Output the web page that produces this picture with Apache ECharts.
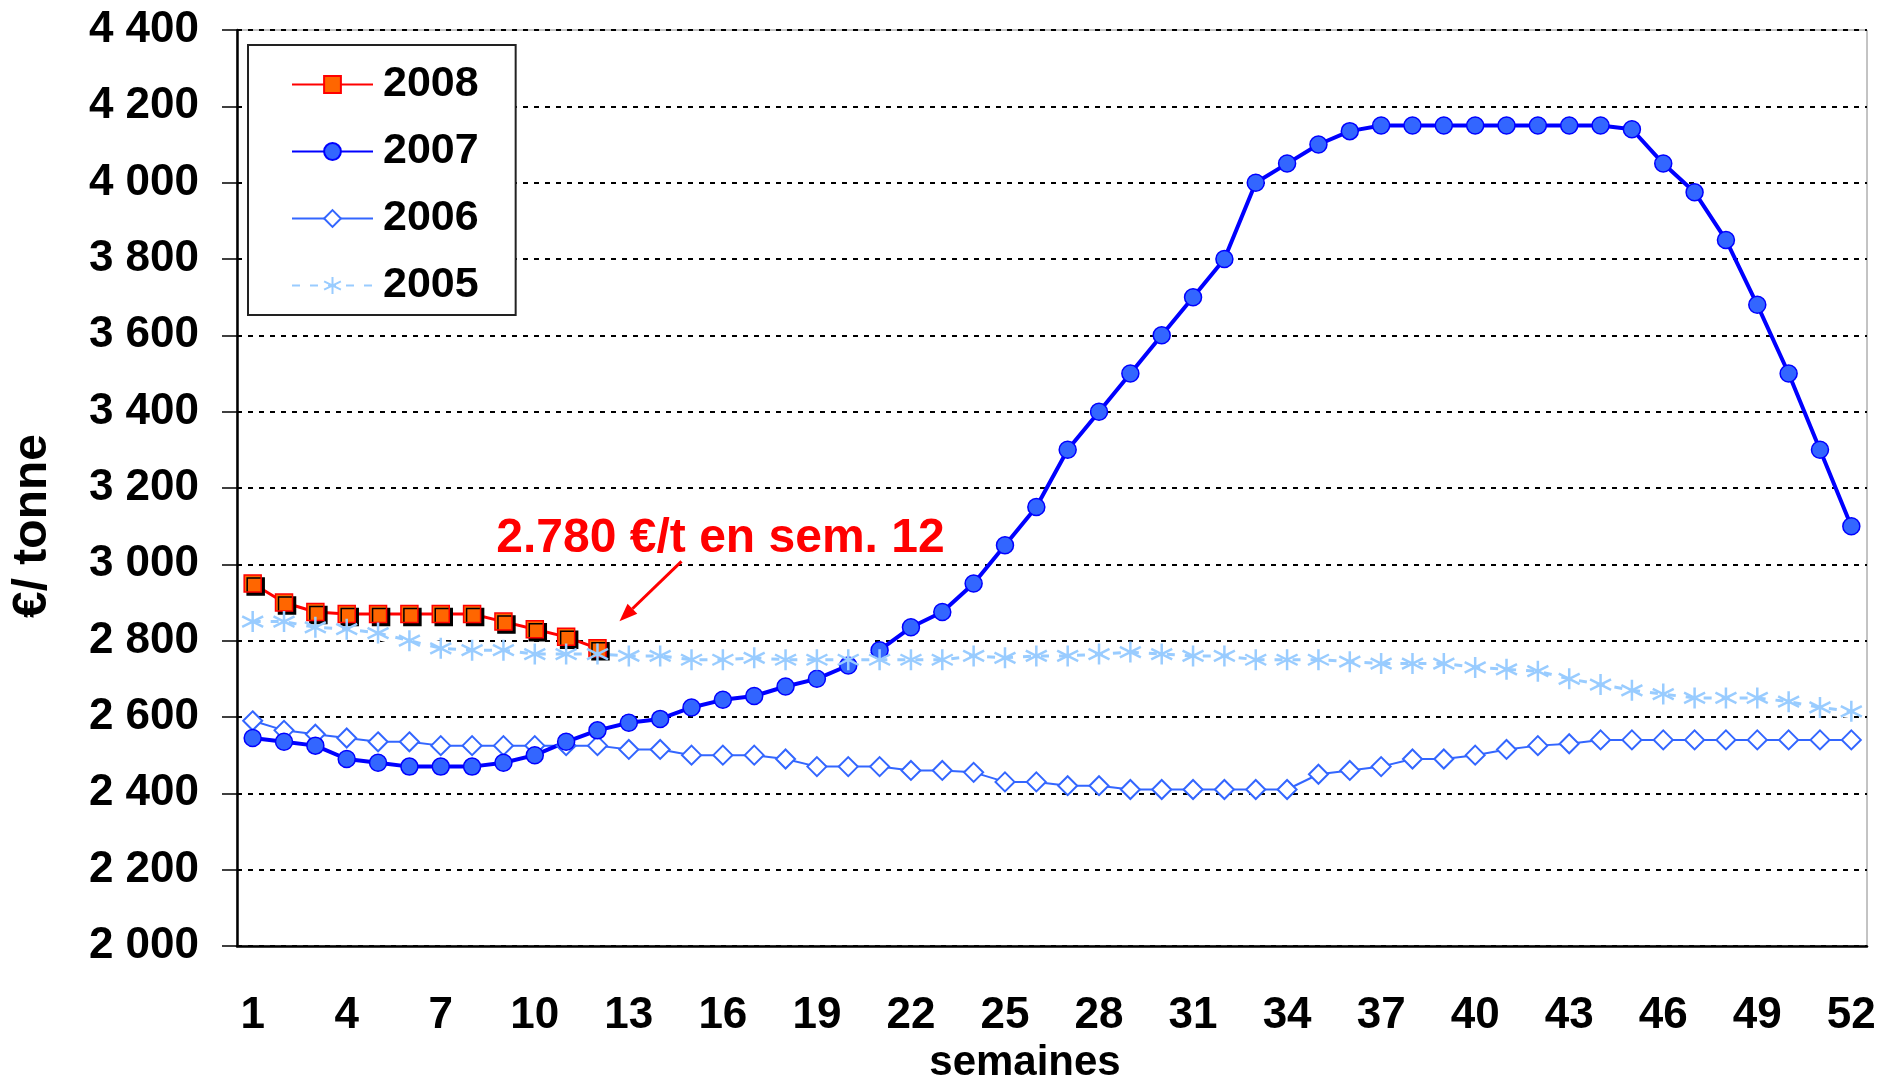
<!DOCTYPE html>
<html>
<head>
<meta charset="utf-8">
<script src="https://cdn.jsdelivr.net/npm/echarts@6/dist/echarts.min.js"></script>
<style>
  html, body { margin: 0; padding: 0; background: #fff; }
  #chart { width: 1880px; height: 1080px; }
</style>
</head>
<body>
<div id="chart"></div>
<script>
// semaines 1..52
const weeks = ['1','2','3','4','5','6','7','8','9','10','11','12','13','14','15','16','17','18','19','20',
  '21','22','23','24','25','26','27','28','29','30','31','32','33','34','35','36','37','38','39','40',
  '41','42','43','44','45','46','47','48','49','50','51','52']

// prix €/tonne par semaine
const price2008 = [2950, 2900, 2875, 2870, 2870, 2870, 2870, 2870, 2850, 2830, 2810, 2780]
const price2007 = [2545, 2535, 2525, 2490, 2480, 2470, 2470, 2470, 2480, 2500,
  2535, 2565, 2585, 2595, 2625, 2645, 2655, 2680, 2700, 2735,
  2775, 2835, 2875, 2950, 3050, 3150, 3300, 3400, 3500, 3600,
  3700, 3800, 4000, 4050, 4100, 4135, 4150, 4150, 4150, 4150,
  4150, 4150, 4150, 4150, 4140, 4050, 3975, 3850, 3680, 3500,
  3300, 3100]
const price2006 = [2590, 2565, 2555, 2545, 2535, 2535, 2525, 2525, 2525, 2525,
  2525, 2525, 2515, 2515, 2500, 2500, 2500, 2490, 2470, 2470,
  2470, 2460, 2460, 2455, 2430, 2430, 2420, 2420, 2410, 2410,
  2410, 2410, 2410, 2410, 2450, 2460, 2470, 2490, 2490, 2500,
  2515, 2525, 2530, 2540, 2540, 2540, 2540, 2540, 2540, 2540,
  2540, 2540]
const price2005 = [2850, 2850, 2835, 2830, 2820, 2800, 2780, 2775, 2775, 2765,
  2765, 2765, 2760, 2760, 2750, 2750, 2755, 2750, 2750, 2750,
  2750, 2750, 2750, 2760, 2755, 2760, 2760, 2765, 2770, 2765,
  2760, 2760, 2750, 2750, 2750, 2745, 2740, 2740, 2740, 2730,
  2725, 2720, 2700, 2685, 2670, 2660, 2650, 2650, 2650, 2640,
  2625, 2615]

const yMin = 2000, yMax = 4400, yStep = 200
const noteText = '2.780 €/t en sem. 12'
const noteWeek = '12', noteValue = 2780

const FONT = "'Liberation Sans', Arial, sans-serif"
const ASTERISK = 'path://M10,0L10,20M1,5L19,15M1,15L19,5'

// 12 345 -> "12 345"
function thousands(v) {
  return String(v).replace(/\B(?=(\d{3})+(?!\d))/g, ' ')
}

const chart = echarts.init(document.getElementById('chart'))

chart.setOption({
  animation: false,
  backgroundColor: '#fff',
  textStyle: { fontFamily: FONT },
  grid: {
    left: 237, right: 13, top: 30, bottom: 134,
    show: true, borderColor: '#888', borderWidth: 1,
    outerBoundsMode: 'none',
  },
  legend: {
    data: ['2008', '2007', '2006', '2005'],
    orient: 'vertical',
    left: 248, top: 45,
    padding: [18, 37, 8, 43],
    itemWidth: 81, itemHeight: 21, itemGap: 24,
    borderColor: '#222', borderWidth: 2,
    backgroundColor: '#fff',
    textStyle: { fontFamily: FONT, fontSize: 43, fontWeight: 'bold', color: '#000', padding: [0, 0, 0, 5] },
  },
  xAxis: {
    type: 'category',
    data: weeks,
    boundaryGap: true,
    name: 'semaines',
    nameLocation: 'middle',
    nameGap: 93,
    nameTextStyle: { fontFamily: FONT, fontSize: 42, fontWeight: 'bold', color: '#000', padding: [0, 54, 0, 0] },
    axisLine: { lineStyle: { color: '#000', width: 2.5 } },
    axisTick: { inside: true, length: 15, interval: 0, lineStyle: { color: '#000', width: 1.5 } },
    axisLabel: { interval: 2, margin: 48, fontFamily: FONT, fontSize: 44, fontWeight: 'bold', color: '#000' },
    splitLine: { show: false },
  },
  yAxis: {
    type: 'value',
    min: yMin, max: yMax, interval: yStep,
    name: '€/ tonne',
    nameLocation: 'middle',
    nameGap: 180,
    nameTextStyle: { fontFamily: FONT, fontSize: 48, fontWeight: 'bold', color: '#000', padding: [0, 76, 0, 0] },
    axisLine: { show: true, lineStyle: { color: '#000', width: 2.5 } },
    axisTick: { show: true, length: 15, lineStyle: { color: '#000', width: 1.5 } },
    axisLabel: { margin: 38, fontFamily: FONT, fontSize: 44, fontWeight: 'bold', color: '#000', formatter: thousands },
    splitLine: { lineStyle: { color: '#000', width: 2, type: [5, 6] } },
  },
  series: [
    {
      name: '2006', type: 'line', data: price2006,
      symbol: 'diamond', symbolSize: 19, showAllSymbol: true,
      lineStyle: { color: '#3366ff', width: 2 },
      itemStyle: { color: '#fff', borderColor: '#3366ff', borderWidth: 2 },
    },
    {
      name: '2007', type: 'line', data: price2007,
      symbol: 'circle', symbolSize: 17, showAllSymbol: true,
      lineStyle: { color: '#0000ff', width: 4 },
      itemStyle: { color: '#3366ff', borderColor: '#0000ff', borderWidth: 1.5 },
    },
    {
      name: '2008', type: 'line', data: price2008,
      symbol: 'rect', symbolSize: 17, showAllSymbol: true,
      lineStyle: { color: '#ff0000', width: 3 },
      itemStyle: {
        color: '#ff6600', borderColor: '#ff0000', borderWidth: 1.5,
        shadowColor: '#000', shadowOffsetX: 3, shadowOffsetY: 3, shadowBlur: 0,
      },
    },
    // bande blanche sous la courbe 2005 (comme dans l'original)
    {
      name: '', type: 'line', data: price2005,
      symbol: 'none', silent: true,
      lineStyle: { color: '#fff', width: 14 },
    },
    {
      name: '2005', type: 'line', data: price2005,
      symbol: ASTERISK, symbolSize: 21, showAllSymbol: true,
      lineStyle: { color: '#99ccff', width: 3, type: [8, 10] },
      itemStyle: { color: '#99ccff', borderColor: '#99ccff', borderWidth: 2.5 },
    },
  ],
})

// annotation : texte + flèche ancrés sur le point sem. 12
const p = chart.convertToPixel({ gridIndex: 0 }, [noteWeek, noteValue])
const start = [p[0] + 84, p[1] - 87]
const tip = [p[0] + 22, p[1] - 27]
const dx = tip[0] - start[0], dy = tip[1] - start[1]
const len = Math.sqrt(dx * dx + dy * dy)
const ux = dx / len, uy = dy / len
const headL = 18, headW = 7
const base = [tip[0] - ux * headL, tip[1] - uy * headL]

chart.setOption({
  graphic: [
    {
      type: 'line', silent: true,
      shape: { x1: start[0], y1: start[1], x2: base[0], y2: base[1] },
      style: { stroke: '#ff0000', lineWidth: 3 },
    },
    {
      type: 'polygon', silent: true,
      shape: { points: [tip, [base[0] - uy * headW, base[1] + ux * headW], [base[0] + uy * headW, base[1] - ux * headW]] },
      style: { fill: '#ff0000' },
    },
    {
      type: 'text', silent: true,
      x: p[0] + 123, y: p[1] - 110,
      style: {
        text: noteText, fill: '#ff0000',
        font: "bold 48px 'Liberation Sans', Arial, sans-serif",
        align: 'center', verticalAlign: 'middle',
      },
    },
  ],
})
</script>
</body>
</html>
